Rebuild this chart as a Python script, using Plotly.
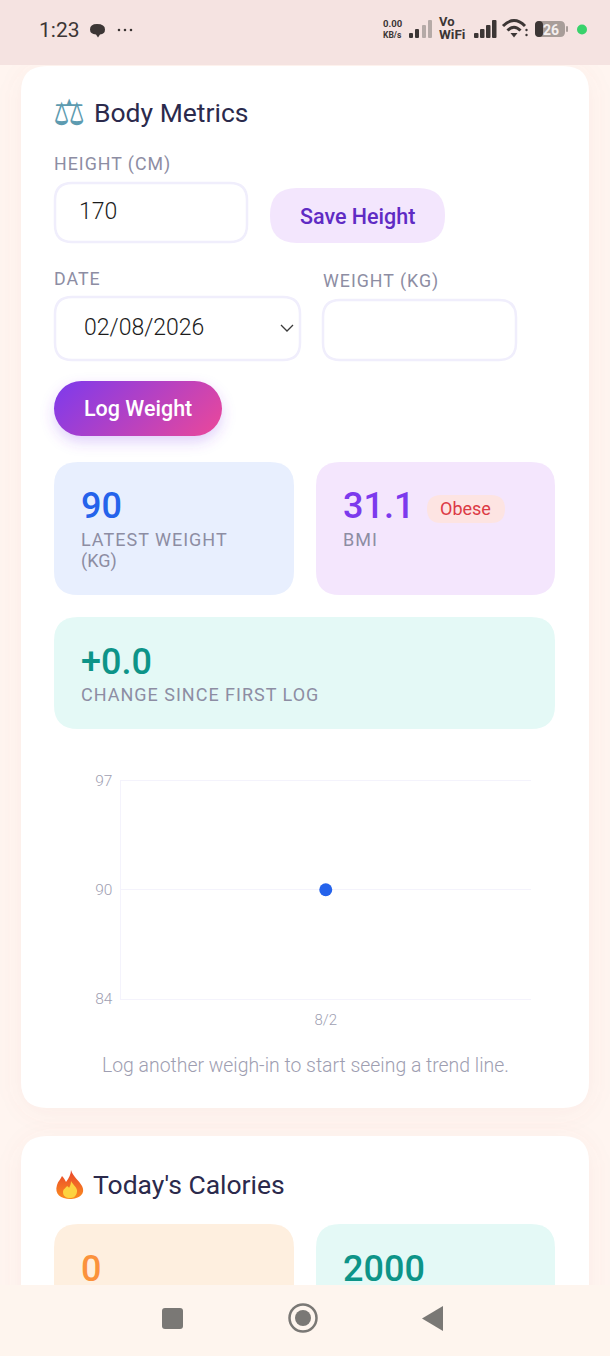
import base64

import plotly.graph_objects as go

W = 610
H = 1356

# chart values
dates = ["8/2"]
weights = [90]
y_ticks = [83.5, 90, 96.5]
y_tick_labels = ["84", "90", "97"]

# card values
height_cm = "170"
log_date = "02/08/2026"
latest_weight = "90"
bmi = "31.1"
bmi_status = "Obese"
weight_change = "+0.0"
calories_eaten = "0"
calories_goal = "2000"

FONT = "Roboto"
INK = "#2b2a4c"
MUTED = "#8d8da3"


def X(x):
    return x / W


def Y(y):
    return 1 - y / H


def rrect(x0, y0, x1, y1, r):
    return (
        f"M{X(x0+r)},{Y(y0)} L{X(x1-r)},{Y(y0)} Q{X(x1)},{Y(y0)} {X(x1)},{Y(y0+r)} "
        f"L{X(x1)},{Y(y1-r)} Q{X(x1)},{Y(y1)} {X(x1-r)},{Y(y1)} "
        f"L{X(x0+r)},{Y(y1)} Q{X(x0)},{Y(y1)} {X(x0)},{Y(y1-r)} "
        f"L{X(x0)},{Y(y0+r)} Q{X(x0)},{Y(y0)} {X(x0+r)},{Y(y0)} Z"
    )


def poly(points, close=True):
    d = " L".join(f"{X(a)},{Y(b)}" for a, b in points)
    return "M" + d + (" Z" if close else "")


shapes = []
notes = []


def box(x0, y0, x1, y1, r, fill, line=None, width=0):
    shapes.append(dict(type="path", path=rrect(x0, y0, x1, y1, r), xref="paper", yref="paper",
                       fillcolor=fill, line=dict(color=line or fill, width=width), layer="below"))


def path(d, fill="rgba(0,0,0,0)", line=None, width=0):
    shapes.append(dict(type="path", path=d, xref="paper", yref="paper", fillcolor=fill,
                       line=dict(color=line or "rgba(0,0,0,0)", width=width), layer="below"))


def dot(cx, cy, r, fill, line=None, width=0):
    shapes.append(dict(type="circle", xref="paper", yref="paper", x0=X(cx-r), x1=X(cx+r), y0=Y(cy+r), y1=Y(cy-r),
                       fillcolor=fill, line=dict(color=line or "rgba(0,0,0,0)", width=width), layer="below"))


def label(text, x, y, size, color, weight=400, anchor="left", family=FONT):
    if anchor == "left":
        x -= 1
    notes.append(dict(text=text, x=X(x), y=Y(y), xref="paper", yref="paper", xanchor=anchor, yanchor="middle",
                      showarrow=False, borderpad=0, font=dict(family=family, size=size, color=color, weight=weight)))


# white cards
box(21, 66, 589, 1108, 26, "#ffffff")
box(21, 1136, 589, 1356, 26, "#ffffff")

# body metrics form
label("⚖", 53, 112, 36, "#5d9bb0", family="DejaVu Sans")
label("Body Metrics", 94, 112.5, 26.5, INK, 400)
label("HEIGHT (CM)", 54, 164, 17.8, MUTED)
box(55, 183, 247, 242, 17, "#ffffff", "#f0eefc", 2.5)
label(height_cm, 79, 211, 23, "#1c1c1c", 300)
box(270, 188, 445, 243, 27, "#f3e6fd")
label("Save Height", 357.5, 216, 21.5, "#5f2bc4", 500, "center")

label("DATE", 54, 278, 17.8, MUTED)
box(55, 297, 300, 360, 17, "#ffffff", "#f0eefc", 2.5)
label(log_date, 84, 328, 23, "#1c1c1c", 300)
path(poly([(281, 325), (287, 331), (293, 325)], close=False), line="#3a3a3a", width=1.3)
label("WEIGHT (KG)", 323, 281, 17.8, MUTED)
box(323, 300, 516, 360, 17, "#ffffff", "#f0eefc", 2.5)
label("Log Weight", 138, 408, 21.5, "#ffffff", 500, "center")

# stat tiles
box(54, 462, 294, 595, 24, "#e8effe")
label(latest_weight, 81, 506, 36, "#2563eb", 500)
label("LATEST WEIGHT", 81, 539, 18, MUTED)
label("(KG)", 81, 561, 18, MUTED)

box(316, 462, 555, 595, 24, "#f4e6fd")
label(bmi, 343, 506, 36, "#7c3aed", 500)
box(427, 495, 505, 523, 14, "#fde4e2")
label(bmi_status, 465.5, 508, 18, "#dc3a45", 400, "center")
label("BMI", 343, 539, 18, MUTED)

box(54, 617, 555, 729, 24, "#e4f9f6")
label(weight_change, 81, 662, 36, "#0d9488", 500)
label("CHANGE SINCE FIRST LOG", 81, 694, 18, MUTED)

label("Log another weigh-in to start seeing a trend line.", 305, 1065, 19.4, "#9e9eb1", 300, "center")

# second card
label("Today's Calories", 93, 1184.5, 26.5, INK, 400)
box(54, 1224, 294, 1356, 24, "#feefdf")
label(calories_eaten, 81, 1269, 36, "#fb923c", 500)
box(316, 1224, 555, 1356, 24, "#e4f9f6")
label(calories_goal, 343, 1269, 36, "#0d9488", 500)

# status bar
path(poly([(0, 0), (W, 0), (W, 65), (0, 65)]), fill="#f5e3e1")
label("1:23", 39, 30, 21, "#3c3635", 400)
path(
    f"M{X(97)},{Y(24)} Q{X(105)},{Y(24)} {X(105)},{Y(29.5)} Q{X(105)},{Y(34)} {X(100)},{Y(34.5)} "
    f"L{X(98)},{Y(37.5)} L{X(96)},{Y(34.5)} Q{X(90)},{Y(34)} {X(90)},{Y(29.5)} Q{X(90)},{Y(24)} {X(97)},{Y(24)} Z",
    fill="#3c3635",
)
for cx in [119, 125, 131]:
    dot(cx, 30, 1.3, "#3c3635")
label("0.00", 383, 23, 9.5, "#3c3635", 700)
label("KB/s", 383, 35, 8.5, "#3c3635", 700)
for x0, top, col in [(409, 33, "#3c3635"), (415, 29, "#3c3635"), (422, 25, "#b5aaa7"), (428, 20, "#b5aaa7")]:
    box(x0, top, x0 + 4, 38, 1, col)
label("Vo", 439, 22, 13, "#3c3635", 700)
label("WiFi", 439, 34, 13.5, "#3c3635", 700)
for x0, top in [(474, 33), (480, 29), (486, 25), (492, 20)]:
    box(x0, top, x0 + 4.5, 38, 1, "#3c3635")
path(f"M{X(503)},{Y(26)} Q{X(514)},{Y(15)} {X(525)},{Y(26)}", line="#3c3635", width=3)
path(f"M{X(507.5)},{Y(30.5)} Q{X(514)},{Y(24)} {X(520.5)},{Y(30.5)}", line="#3c3635", width=3)
path(poly([(510.5, 33), (517.5, 33), (514, 37.5)]), fill="#3c3635")
dot(526.5, 30, 1.2, "#3c3635")
dot(526.5, 35, 1.2, "#3c3635")
box(535, 21, 565, 37, 5, "#a89d99")
box(535, 21, 543, 37, 4, "#3c3635")
box(566, 26, 568, 32, 1, "#a89d99")
label("26", 551, 30, 14, "#f4efee", 700, "center")
dot(582, 29.5, 5, "#38d26b")

# navigation bar
path(poly([(0, 1285), (W, 1285), (W, H), (0, H)]), fill="#fef5ee")
box(162, 1308, 183, 1329, 3, "#7a7875")
dot(303, 1318, 13.5, "#fef5ee", "#7a7875", 2.5)
dot(303, 1318, 8, "#7a7875")
path(poly([(443, 1306), (443, 1331), (422, 1318.5)]), fill="#7a7875")

# soft shadows sit under the cards, button and flame go over them (no gradients on shapes)
under_svg = f"""<svg xmlns="http://www.w3.org/2000/svg" width="{W}" height="{H}" viewBox="0 0 {W} {H}">
<defs><filter id="s" x="-20%" y="-20%" width="140%" height="140%"><feGaussianBlur stdDeviation="12"/></filter></defs>
<rect x="21" y="70" width="568" height="1042" rx="26" fill="#c86e6e" fill-opacity="0.07" filter="url(#s)"/>
<rect x="21" y="1140" width="568" height="300" rx="26" fill="#c86e6e" fill-opacity="0.07" filter="url(#s)"/>
</svg>"""
over_svg = f"""<svg xmlns="http://www.w3.org/2000/svg" width="{W}" height="{H}" viewBox="0 0 {W} {H}">
<defs>
<filter id="b" x="-30%" y="-60%" width="160%" height="220%"><feGaussianBlur stdDeviation="7"/></filter>
<linearGradient id="g" gradientUnits="userSpaceOnUse" x1="82.25" y1="352.75" x2="193.75" y2="464.25">
<stop offset="0" stop-color="#7c3aed"/><stop offset="1" stop-color="#ec4899"/></linearGradient>
<linearGradient id="f" x1="0" y1="0" x2="0" y2="1">
<stop offset="0" stop-color="#e8452c"/><stop offset="1" stop-color="#fb8c1e"/></linearGradient>
</defs>
<rect x="54" y="387" width="168" height="55" rx="27.5" fill="#7c3aed" fill-opacity="0.24" filter="url(#b)"/>
<rect x="54" y="381" width="168" height="55" rx="27.5" fill="url(#g)"/>
<path d="M71 1170 C73 1177 79 1180 82 1186 C86 1194 79 1199 70 1199 C61 1199 54 1194 57 1185 C58 1181 61 1179 62 1176 C64 1178 65 1180 66 1182 C69 1178 71 1174 71 1170 Z" fill="url(#f)"/>
<path d="M71 1181 C73 1185 78 1188 77 1192 C76 1197 73 1198 70 1198 C66 1198 63 1196 63 1192 C63 1189 66 1188 67 1186 C68 1187 69 1187 69 1188 C70 1186 71 1184 71 1181 Z" fill="#fdd33f"/>
</svg>"""


def svg_uri(text):
    return "data:image/svg+xml;base64," + base64.b64encode(text.encode()).decode()


images = [
    dict(source=svg_uri(under_svg), xref="paper", yref="paper", x=0, y=1, sizex=1, sizey=1,
         xanchor="left", yanchor="top", sizing="stretch", layer="below"),
    dict(source=svg_uri(over_svg), xref="paper", yref="paper", x=0, y=1, sizex=1, sizey=1,
         xanchor="left", yanchor="top", sizing="stretch", layer="above"),
]

fig = go.Figure()
fig.add_trace(go.Scatter(x=dates, y=weights, mode="markers", marker=dict(color="#2563eb", size=13), showlegend=False))

fig.update_layout(
    width=W,
    height=H,
    autosize=False,
    margin=dict(l=0, r=0, t=0, b=0, pad=0, autoexpand=False),
    paper_bgcolor="#fff5f0",
    plot_bgcolor="rgba(0,0,0,0)",
    shapes=shapes,
    annotations=notes,
    images=images,
    showlegend=False,
    font=dict(family=FONT),
)
fig.update_xaxes(
    domain=[X(120.5), X(531)],
    type="category",
    range=[-0.5, 0.5],
    showgrid=False,
    zeroline=False,
    ticks="",
    ticklabelstandoff=7,
    tickfont=dict(family=FONT, size=15, color="#a0a0b2", weight=300),
    showline=True,
    mirror=True,
    linecolor="#f4f3fc",
    linewidth=1,
)
fig.update_yaxes(
    domain=[Y(999), Y(780.5)],
    range=[y_ticks[0], y_ticks[-1]],
    tickvals=y_ticks,
    ticktext=y_tick_labels,
    showgrid=True,
    gridcolor="#f4f3fc",
    gridwidth=1,
    zeroline=False,
    ticks="",
    ticklabelstandoff=4,
    tickfont=dict(family=FONT, size=15.5, color="#a0a0b2", weight=300),
    showline=True,
    linecolor="#f4f3fc",
    linewidth=1,
)

# plotly has no letter spacing, the uppercase captions need about 1px
spacing_js = """
document.body.style.margin='0';
document.body.style.overflow='hidden';
document.querySelectorAll('.annotation-text').forEach(function(el){
  var t = el.textContent;
  if (t.length < 3 || t !== t.toUpperCase() || !/[A-Z]{3}/.test(t)) return;
  var w0 = el.getComputedTextLength();
  el.style.letterSpacing = '1px';
  var w1 = el.getComputedTextLength();
  el.setAttribute('x', parseFloat(el.getAttribute('x')) + (w1 - w0) / 2);
});
"""

fig.write_html("out.html", config=dict(displayModeBar=False), post_script=spacing_js)
